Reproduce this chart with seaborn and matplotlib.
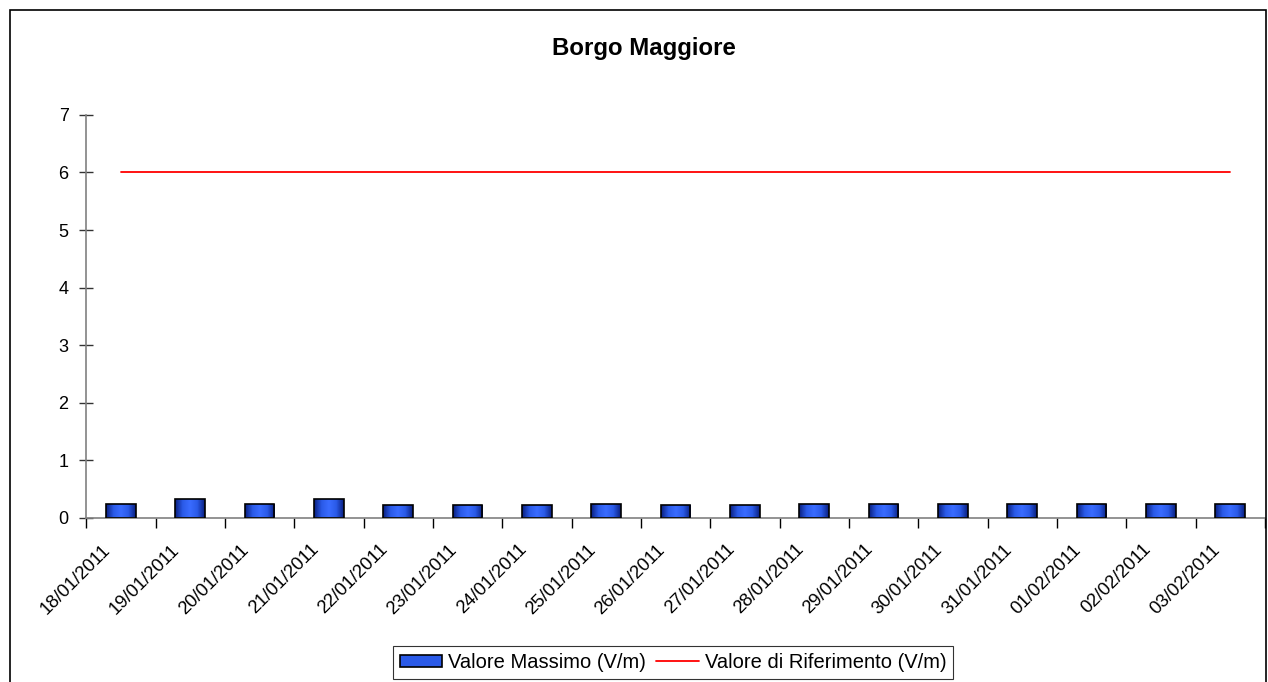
import numpy as np
import pandas as pd
import seaborn as sns
import matplotlib.pyplot as plt
from matplotlib.patches import Patch, Rectangle
from matplotlib.lines import Line2D
from matplotlib.colors import LinearSegmentedColormap
import matplotlib.transforms as mtransforms

date = ["18/01/2011", "19/01/2011", "20/01/2011", "21/01/2011", "22/01/2011",
        "23/01/2011", "24/01/2011", "25/01/2011", "26/01/2011", "27/01/2011",
        "28/01/2011", "29/01/2011", "30/01/2011", "31/01/2011", "01/02/2011",
        "02/02/2011", "03/02/2011"]
valore_massimo = [0.25, 0.33, 0.25, 0.33, 0.22, 0.22, 0.22, 0.25, 0.22, 0.22,
                  0.25, 0.25, 0.25, 0.25, 0.25, 0.25, 0.25]
valore_riferimento = [6] * len(date)

df = pd.DataFrame({"Data": date, "Massimo": valore_massimo, "Riferimento": valore_riferimento})

sns.set_style("white")
plt.rcParams['font.family'] = ['Liberation Sans', 'DejaVu Sans']
plt.rcParams['text.color'] = 'black'
plt.rcParams['xtick.color'] = 'black'
plt.rcParams['ytick.color'] = 'black'

fig = plt.figure(figsize=(12.68, 6.82), dpi=100)
ax = fig.add_axes([0.068, 0.2405, 0.9295, 0.591])

sns.barplot(data=df, x="Data", y="Massimo", color="#2f5fe8", width=0.43,
            edgecolor="black", linewidth=1.2, ax=ax, saturation=1)

# gradient dentro le barre
grad = LinearSegmentedColormap.from_list("g", ["#0a2080", "#2a5ae8", "#3a6cff", "#2a5ae8", "#0a2080"])
for p in ax.patches:
    x0, y0 = p.get_x(), p.get_y()
    w, h = p.get_width(), p.get_height()
    im = ax.imshow(np.linspace(0, 1, 64).reshape(1, -1), cmap=grad, aspect="auto",
                   extent=[x0, x0 + w, y0, y0 + h], zorder=p.get_zorder() - 0.1)
    im.set_clip_path(p)
    p.set_facecolor("none")
    p.set_zorder(3)

xpos = np.arange(len(date))
sns.lineplot(x=xpos, y=df["Riferimento"], color="#ff0000", linewidth=1.3, ax=ax)

ax.set_xlim(-0.5, len(date) - 0.5)
ax.set_ylim(0, 7)
ax.set_yticks(range(0, 8))
ax.set_xticks(xpos)
ax.set_xticks(np.arange(-0.5, len(date), 1), minor=True)
ax.set_xticklabels([])
# etichette delle date ruotate, spostate come nell'originale
offset = mtransforms.ScaledTranslation(-0.19, -0.23, fig.dpi_scale_trans)
for i, d in enumerate(date):
    ax.text(xpos[i], 0, d, transform=ax.get_xaxis_transform() + offset, rotation=45,
            ha="right", va="top", rotation_mode="anchor", fontsize=13.3, clip_on=False)
ax.tick_params(axis="x", which="major", length=0)
ax.tick_params(axis="x", which="minor", direction="out", length=7, width=1, color="black", bottom=True)
ax.tick_params(axis="y", direction="inout", length=9.5, width=1, color="#333333", labelsize=13, pad=8, left=True)
ax.set_xlabel("")
ax.set_ylabel("")

for s in ["top", "right"]:
    ax.spines[s].set_visible(False)
for s in ["left", "bottom"]:
    ax.spines[s].set_color("#808080")
    ax.spines[s].set_linewidth(1.2)

fig.text(0.508, 0.929, "Borgo Maggiore", ha="center", va="center", fontsize=17.3, fontweight="bold")

handles = [Patch(facecolor="#2a5ae8", edgecolor="black", linewidth=1.2),
           Line2D([0], [0], color="#ff0000", linewidth=1.3)]
leg = fig.legend(handles, ["Valore Massimo (V/m)", "Valore di Riferimento (V/m)"],
                 loc="upper center", bbox_to_anchor=(0.5308, 0.0528), ncol=2, fontsize=14.5,
                 frameon=True, fancybox=False, edgecolor="black", handlelength=2.1,
                 handleheight=0.6, columnspacing=0.5, handletextpad=0.3, borderpad=0.35,
                 borderaxespad=0)
leg.get_frame().set_linewidth(0.8)

fig.patches.append(Rectangle((0.008, -0.1), 0.9905, 1.0853, transform=fig.transFigure,
                             fill=False, edgecolor="black", linewidth=1.2, clip_on=False))

fig.savefig("out.png", dpi=100)
